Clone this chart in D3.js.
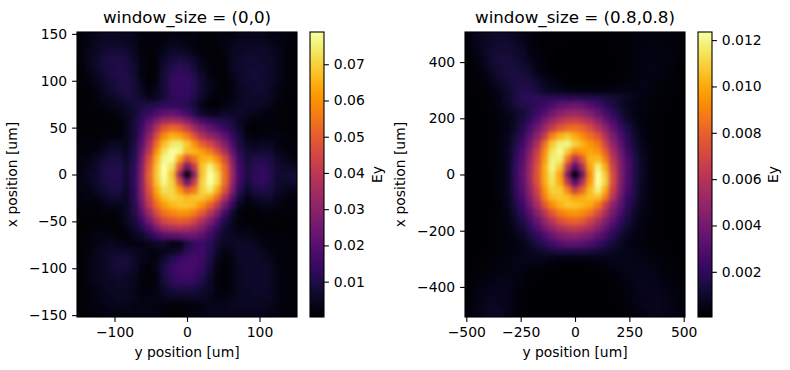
<!DOCTYPE html>
<html lang="en">
<head>
	<meta charset="UTF-8"/>
	<title>Beam profile</title>
	<script src="https://d3js.org/d3.v7.min.js"></script>
	<style>
		html, body { margin: 0; padding: 0; background: #fff; }
		text { font-family: "DejaVu Sans", sans-serif; fill: #000; }
		.axis text { font-size: 13.9px; }
		.axis path, .axis line { stroke: #000; stroke-width: 1.1px; }
		.label { font-size: 13.9px; }
		.title { font-size: 16.7px; }
	</style>
</head>
<body>
<div id="chart"></div>
<script>
	// Ey, in units of 0.001, rows top to bottom
	var leftValues = [
		[2,3,4,5,5,5,5,4,2,2,2,3,3,3,3,3,2,2,3,3,3,4,4,4,4,3,3,3,2],
		[2,3,5,6,6,6,5,4,2,1,2,3,4,4,3,2,1,1,2,3,4,5,5,5,5,4,3,2,2],
		[2,4,5,7,8,8,7,5,2,1,2,4,6,6,5,3,2,1,1,3,5,5,6,6,6,5,4,2,1],
		[2,4,6,8,9,9,9,6,3,1,2,6,8,9,8,6,3,2,1,2,5,6,7,7,6,6,4,2,1],
		[1,4,6,8,9,10,9,7,3,1,2,7,10,12,11,8,4,2,1,2,5,6,7,7,7,6,4,2,1],
		[1,3,5,7,9,10,10,7,3,1,3,8,12,13,13,10,6,3,1,1,4,6,7,8,7,6,4,2,1],
		[1,2,4,6,8,9,10,8,4,1,3,8,13,14,14,11,7,4,2,1,3,6,7,7,7,6,4,2,1],
		[1,1,3,5,7,9,10,8,5,2,4,8,13,14,14,11,7,4,2,1,3,5,6,7,7,5,3,2,1],
		[1,1,2,4,5,7,9,8,7,4,5,8,12,13,13,10,6,3,1,2,3,5,6,6,6,5,3,1,1],
		[1,1,2,3,4,5,6,8,9,10,11,12,13,13,11,8,4,1,1,3,4,5,6,6,5,4,2,1,1],
		[1,1,1,1,2,3,5,7,11,14,18,21,22,20,16,11,6,4,4,6,6,6,5,4,3,2,2,1,1],
		[1,1,1,1,1,2,4,8,13,20,27,33,35,34,28,22,17,13,11,10,8,5,3,2,2,2,1,1,1],
		[1,1,1,1,1,1,4,8,15,25,37,48,52,50,43,34,27,22,18,14,10,6,2,1,2,2,2,1,1],
		[1,1,1,2,2,2,4,8,17,30,46,59,65,63,57,47,38,31,27,21,14,8,3,2,2,3,3,2,1],
		[2,2,2,3,5,5,4,9,20,35,54,67,74,75,69,60,51,45,37,28,18,9,5,4,5,5,3,2,2],
		[2,2,3,5,7,7,5,10,23,40,60,73,79,77,67,66,62,56,47,36,22,11,7,7,7,7,4,3,2],
		[3,3,5,7,9,9,6,11,26,46,65,77,78,64,47,55,65,66,59,46,28,14,8,10,10,9,6,4,3],
		[3,4,6,9,10,10,7,12,28,49,68,79,73,48,25,42,68,76,67,52,31,15,9,12,13,10,7,6,5],
		[3,5,6,9,11,11,7,13,29,51,69,79,68,32,3,30,68,79,72,54,33,16,9,12,14,11,7,7,8],
		[3,4,6,9,10,10,7,13,29,50,68,77,70,47,24,42,70,79,72,53,31,15,8,12,13,10,7,6,7],
		[3,3,5,7,9,9,6,12,28,47,64,73,71,62,50,55,70,75,64,47,27,12,6,9,10,9,6,4,4],
		[2,3,3,5,7,7,5,12,27,44,59,68,71,69,66,68,69,64,53,37,20,8,3,6,7,7,4,3,2],
		[2,2,2,3,4,4,5,11,24,40,53,62,66,68,68,66,60,51,40,26,13,4,2,3,4,4,3,2,2],
		[1,1,1,2,2,3,5,10,20,33,46,54,58,60,60,56,49,39,28,16,7,2,1,1,2,2,2,1,1],
		[1,1,1,1,1,2,5,8,15,25,36,45,48,50,49,44,37,28,19,10,5,2,1,1,1,1,1,1,1],
		[1,1,2,2,1,1,3,6,10,17,26,33,36,37,36,33,28,20,13,7,4,3,3,2,1,1,1,1,1],
		[1,2,3,3,3,2,2,4,6,10,15,19,20,21,23,23,20,15,9,6,5,4,4,3,2,2,2,1,1],
		[1,2,3,4,5,4,3,3,3,4,6,6,3,3,9,14,15,12,7,5,5,6,6,5,3,2,2,2,1],
		[1,2,4,5,6,6,6,5,4,3,3,4,5,7,12,15,15,11,6,3,4,6,6,6,5,3,2,2,1],
		[1,3,4,5,7,8,8,6,4,3,3,7,11,14,16,17,15,10,4,2,3,6,6,6,5,4,2,2,1],
		[1,3,4,5,7,8,8,6,3,2,4,9,14,16,17,16,14,8,3,1,3,5,6,6,6,5,3,2,1],
		[1,3,4,5,6,7,6,5,2,1,3,9,13,15,16,15,12,7,2,1,3,5,6,6,6,5,3,2,1],
		[1,3,4,5,5,6,6,4,2,1,3,8,12,14,14,13,9,6,2,1,3,5,6,6,6,5,3,2,1],
		[1,2,3,4,5,5,5,4,2,2,3,6,8,9,9,8,7,5,2,2,3,5,5,6,6,5,3,2,1],
		[1,2,3,4,4,5,5,4,3,3,3,4,5,5,5,6,5,4,3,3,4,5,5,5,5,5,3,2,1],
		[1,2,3,3,4,4,4,3,3,3,3,2,1,1,1,2,3,4,4,4,5,5,5,5,5,4,3,2,1],
		[1,2,2,3,3,3,3,3,3,3,3,2,1,1,2,3,3,4,4,4,4,4,4,4,4,3,3,2,1]
	];

	// Ey, in units of 0.0001, rows top to bottom
	var rightValues = [
		[4,6,8,9,10,10,8,6,4,2,1,1,1,1,1,1,1,1,1,1,2,2,3,3,3,3,3,3,2],
		[3,6,8,10,11,11,10,7,4,2,1,1,1,1,0,0,0,0,1,1,1,2,3,3,4,4,3,3,2],
		[3,5,8,11,12,12,11,9,5,3,1,1,0,0,0,0,0,0,0,1,1,2,3,4,4,4,4,3,2],
		[2,4,7,11,13,13,12,10,7,4,2,1,0,0,0,0,0,0,0,0,1,2,3,4,4,4,4,3,2],
		[2,3,6,10,12,13,13,11,9,5,3,1,0,0,0,0,0,0,0,0,1,2,3,4,5,4,3,3,1],
		[1,2,4,8,11,13,14,13,11,7,4,2,1,0,0,0,0,0,0,1,1,2,3,4,5,4,3,2,1],
		[1,2,3,6,9,12,14,15,14,11,7,5,3,1,0,0,0,0,1,1,2,3,4,5,4,3,2,2,1],
		[1,1,2,4,7,10,13,16,16,13,9,7,6,5,4,3,3,3,4,5,5,5,5,5,4,3,2,1,1],
		[0,1,1,3,5,9,13,18,20,20,18,18,18,18,18,17,16,15,13,12,10,8,6,4,3,2,1,1,0],
		[0,0,1,2,5,8,13,16,17,20,23,28,33,35,37,35,30,26,19,14,10,7,5,4,3,2,1,0,0],
		[0,0,1,2,4,6,9,12,17,24,30,38,45,50,51,49,43,36,28,20,13,8,5,3,2,1,1,0,0],
		[0,0,0,1,3,5,8,13,20,30,40,51,60,66,67,63,57,47,36,27,17,10,6,3,2,1,0,0,0],
		[0,0,0,1,3,5,9,16,27,38,51,64,76,82,84,80,72,60,47,34,23,14,8,4,2,1,0,0,0],
		[0,0,0,1,3,6,12,20,33,47,64,90,102,108,100,92,84,75,58,42,29,17,9,5,2,1,0,0,0],
		[0,0,0,1,3,6,14,24,38,56,84,108,118,120,110,102,95,87,68,49,34,20,11,6,2,1,0,0,0],
		[0,0,0,1,3,7,16,28,44,65,92,114,122,108,92,96,99,95,78,56,38,24,13,7,3,1,0,0,0],
		[0,0,0,1,3,7,18,30,48,70,96,118,118,88,60,78,102,104,88,62,42,27,14,8,3,1,0,0,0],
		[0,0,0,1,3,7,19,32,51,74,100,120,108,64,30,58,98,118,100,68,44,28,15,8,3,1,0,0,0],
		[0,0,0,0,3,7,20,33,52,75,100,116,98,42,2,38,92,124,108,72,45,28,15,8,4,1,0,0,0],
		[0,0,0,0,3,7,19,32,51,74,100,114,100,62,30,58,96,124,110,72,44,28,15,8,3,1,0,0,0],
		[0,0,0,0,3,7,18,30,48,68,94,110,108,90,66,82,104,119,100,66,42,26,14,7,3,1,0,0,0],
		[0,0,0,0,3,6,16,27,43,62,88,104,108,105,98,100,105,105,88,60,37,22,13,7,3,1,0,0,0],
		[0,0,0,0,2,6,14,24,38,55,76,92,102,107,106,103,100,88,66,46,33,19,11,6,3,1,0,0,0],
		[0,0,0,1,2,5,11,19,31,45,60,76,88,93,95,92,85,72,55,40,28,16,9,5,3,1,0,0,0],
		[0,0,0,1,2,4,9,15,25,36,49,61,73,79,81,77,68,56,44,32,21,13,7,4,2,1,0,0,0],
		[0,0,0,1,2,4,7,11,19,28,38,48,56,61,63,60,54,45,35,25,16,10,6,4,2,1,0,0,0],
		[0,0,0,1,2,3,5,8,14,20,28,35,42,46,47,44,40,33,26,18,11,7,4,4,2,1,0,0,0],
		[0,0,0,1,2,3,4,6,9,14,19,25,29,33,33,31,28,23,17,12,8,5,4,3,2,1,1,0,0],
		[0,0,1,1,2,3,4,5,7,9,11,13,14,14,14,14,13,12,10,8,6,6,5,4,3,2,1,1,0],
		[0,1,1,2,3,4,5,6,6,6,6,5,4,4,4,4,4,5,5,6,6,6,5,5,4,3,2,1,0],
		[0,1,2,3,4,4,5,5,4,3,2,1,1,0,0,1,1,2,3,4,5,6,6,6,5,4,2,2,1],
		[1,2,3,4,5,5,5,4,2,1,1,0,0,0,0,0,0,1,1,2,4,5,6,6,6,5,3,2,1],
		[1,3,4,5,6,6,5,3,1,1,0,0,0,0,0,0,0,0,1,1,3,4,6,7,6,5,4,3,2],
		[2,4,5,6,7,6,4,2,1,0,0,0,0,0,0,0,0,0,0,1,2,4,5,7,7,6,5,4,3],
		[2,4,6,7,7,6,4,2,1,0,0,0,0,0,0,0,0,0,0,1,2,3,5,6,7,7,6,4,3],
		[3,5,6,8,7,6,4,2,1,0,0,0,0,0,0,0,0,0,0,1,1,3,4,6,7,7,6,5,3],
		[3,5,7,8,8,6,4,2,1,0,0,0,0,0,0,0,0,0,0,0,1,2,4,5,7,7,6,5,4]
	];

	var leftXTicks = [-100, 0, 100];
	var leftYTicks = [-150, -100, -50, 0, 50, 100, 150];
	var leftBarTicks = [0.01, 0.02, 0.03, 0.04, 0.05, 0.06, 0.07];
	var rightXTicks = [-500, -250, 0, 250, 500];
	var rightYTicks = [-400, -200, 0, 200, 400];
	var rightBarTicks = [0.002, 0.004, 0.006, 0.008, 0.010, 0.012];

	var svg = d3.select("#chart")
		.append("svg")
		.attr("width", 790)
		.attr("height", 370);

	var defs = svg.append("defs");

	defs.append("filter")
		.attr("id", "smooth")
		.attr("x", "-20%").attr("y", "-20%")
		.attr("width", "140%").attr("height", "140%")
		.attr("color-interpolation-filters", "sRGB")
		.append("feGaussianBlur")
		.attr("stdDeviation", 2.2);

	var gradient = defs.append("linearGradient")
		.attr("id", "inferno")
		.attr("x1", 0).attr("y1", 1)
		.attr("x2", 0).attr("y2", 0);

	gradient.selectAll("stop")
		.data(d3.range(0, 1.001, 0.02))
		.enter()
		.append("stop")
		.attr("offset", function(d){ return d; })
		.attr("stop-color", function(d){ return d3.interpolateInferno(d); });

	function drawPanel(o){
		var x = d3.scaleLinear().domain([-o.xMax, o.xMax]).range([o.left, o.left + 220]);
		var y = d3.scaleLinear().domain([-o.yMax, o.yMax]).range([317, 32]);
		var color = d3.scaleSequential(d3.interpolateInferno).domain([o.vMin, o.vMax]);
		var barY = d3.scaleLinear().domain([o.vMin, o.vMax]).range([317, 32]);

		var rows = o.values.length;
		var cols = o.values[0].length;
		var xStep = 2 * o.xMax / cols;
		var yStep = 2 * o.yMax / rows;
		var cellW = x(xStep) - x(0);
		var cellH = y(0) - y(yStep);

		var clipId = "clip" + o.left;
		defs.append("clipPath")
			.attr("id", clipId)
			.append("rect")
			.attr("x", o.left).attr("y", 32)
			.attr("width", 220).attr("height", 285);

		// the outer cells run past the frame so the blur has no pale edge
		var cells = svg.append("g")
			.attr("clip-path", "url(#" + clipId + ")")
			.append("g")
			.attr("filter", "url(#smooth)");

		o.values.forEach(function(row, r){
			cells.selectAll(null)
				.data(row)
				.enter()
				.append("rect")
				.attr("shape-rendering", "crispEdges")
				.attr("x", function(d, c){ return x(-o.xMax + c * xStep) - (c == 0 ? 30 : 0); })
				.attr("y", y(o.yMax - r * yStep) - (r == 0 ? 30 : 0))
				.attr("width", function(d, c){ return cellW + 0.5 + (c == 0 || c == cols - 1 ? 30 : 0); })
				.attr("height", cellH + 0.5 + (r == 0 || r == rows - 1 ? 30 : 0))
				.attr("fill", function(d){ return color(Math.max(d * o.unit, o.vMin)); });
		});

		svg.append("g")
			.attr("class", "axis")
			.attr("transform", "translate(0,317)")
			.call(d3.axisBottom(x).tickValues(o.xTicks).tickFormat(d3.format("d")).tickSize(4.9).tickPadding(5.5))
			.select(".domain").remove();

		svg.append("g")
			.attr("class", "axis")
			.attr("transform", "translate(" + o.left + ",0)")
			.call(d3.axisLeft(y).tickValues(o.yTicks).tickFormat(d3.format("d")).tickSize(4.9).tickPadding(4.9))
			.select(".domain").remove();

		svg.append("rect")
			.attr("x", o.left).attr("y", 32)
			.attr("width", 220).attr("height", 285)
			.attr("fill", "none")
			.attr("stroke", "#000")
			.attr("stroke-width", 1.1);

		svg.append("text")
			.attr("class", "title")
			.attr("x", o.left + 110).attr("y", 23)
			.attr("text-anchor", "middle")
			.text(o.title);

		svg.append("text")
			.attr("class", "label")
			.attr("x", o.left + 110).attr("y", 357)
			.attr("text-anchor", "middle")
			.text("y position [um]");

		svg.append("text")
			.attr("class", "label")
			.attr("transform", "translate(" + (o.left - 60) + ",174.5) rotate(-90)")
			.attr("text-anchor", "middle")
			.text("x position [um]");

		// colour bar
		var barX = o.left + 233;
		svg.append("rect")
			.attr("x", barX).attr("y", 32)
			.attr("width", 14).attr("height", 285)
			.attr("fill", "url(#inferno)")
			.attr("stroke", "#000")
			.attr("stroke-width", 1.1);

		svg.append("g")
			.attr("class", "axis")
			.attr("transform", "translate(" + (barX + 14) + ",0)")
			.call(d3.axisRight(barY).tickValues(o.barTicks).tickFormat(d3.format(o.barFormat)).tickSize(4.9).tickPadding(4.9))
			.select(".domain").remove();

		svg.append("text")
			.attr("class", "label")
			.attr("transform", "translate(" + o.barLabelX + ",174.5) rotate(-90)")
			.attr("text-anchor", "middle")
			.text("Ey");
	}

	drawPanel({
		left: 77, title: "window_size = (0,0)",
		values: leftValues, unit: 0.001,
		xMax: 151.7, yMax: 152,
		vMin: 0.00025, vMax: 0.0789,
		xTicks: leftXTicks, yTicks: leftYTicks,
		barTicks: leftBarTicks, barFormat: ".2f", barLabelX: 382
	});

	drawPanel({
		left: 465, title: "window_size = (0.8,0.8)",
		values: rightValues, unit: 0.0001,
		xMax: 506, yMax: 507,
		vMin: 0.00005, vMax: 0.01235,
		xTicks: rightXTicks, yTicks: rightYTicks,
		barTicks: rightBarTicks, barFormat: ".3f", barLabelX: 778
	});
</script>
</body>
</html>
